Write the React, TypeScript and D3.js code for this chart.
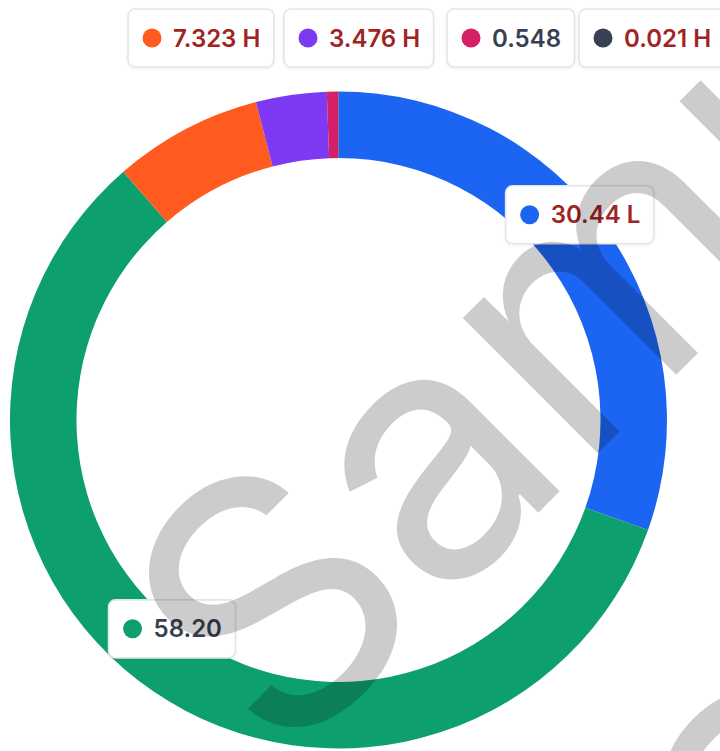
import React, { useMemo } from 'react';
import * as d3 from 'd3';

// ---- data ----
const categories = ['Seg 1', 'Seg 2', 'Seg 3', 'Seg 4', 'Seg 5', 'Seg 6'];
const values = [30.44, 58.2, 7.323, 3.476, 0.548, 0.021];
const valueTexts = ['30.44', '58.20', '7.323', '3.476', '0.548', '0.021'];
const flags = ['L', '', 'H', 'H', '', 'H'];
const colors = ['#1C64F2', '#0E9F6E', '#FF5A1F', '#7E3AF2', '#D61F69', '#374151'];
// labels of the small slices are stacked in a row at the top (left edges)
const rowLabelIdx = [2, 3, 4, 5];
const rowLabelX = [128, 284, 447, 579];

const W = 720;
const H = 751;
const CX = 338.5;
const CY = 420;
const R_OUT = 328.5;
const R_IN = 262;
const BOX_H = 58;
const FONT = 'Inter, "Noto Sans", sans-serif';

function measure(text: string): number {
  if (typeof document === 'undefined') return text.length * 13;
  const c = document.createElement('canvas');
  const ctx = c.getContext('2d');
  if (!ctx) return text.length * 13;
  ctx.font = `600 24px ${FONT}`;
  return ctx.measureText(text).width;
}

function Label({ x, y, i }: { x: number; y: number; i: number }) {
  const txt = valueTexts[i] + (flags[i] ? ' ' + flags[i] : '');
  const tw = measure(txt);
  const w = 14.5 + 19 + 11.5 + tw + 13.5;
  const color = flags[i] ? '#9F2424' : '#374151';
  return (
    <g transform={`translate(${x},${y})`}>
      <rect
        x={0}
        y={0}
        width={w}
        height={BOX_H}
        rx={7}
        fill="#fff"
        stroke="#e2e5ea"
        strokeWidth={1.6}
        filter="url(#shadow)"
      />
      <circle cx={14.5 + 9.5} cy={BOX_H / 2} r={9.5} fill={colors[i]} />
      <text
        x={14.5 + 19 + 11.5}
        y={BOX_H / 2 + 8.6}
        fontFamily={FONT}
        fontWeight={600}
        fontSize={24}
        fill={color}
      >
        {txt}
      </text>
    </g>
  );
}

export default function App() {
  const arcs = useMemo(() => {
    const pie = d3
      .pie<number>()
      .sort(null)
      .value((d) => d)
      .startAngle(0)
      .endAngle(2 * Math.PI);
    return pie(values);
  }, []);

  const arcGen = d3.arc<d3.PieArcDatum<number>>().innerRadius(R_IN).outerRadius(R_OUT);
  const labelArc = d3
    .arc<d3.PieArcDatum<number>>()
    .innerRadius((R_IN + R_OUT) / 2)
    .outerRadius((R_IN + R_OUT) / 2);

  const bigLabels = [0, 1].map((i) => {
    const [lx, ly] = labelArc.centroid(arcs[i]);
    const txt = valueTexts[i] + (flags[i] ? ' ' + flags[i] : '');
    const w = 14.5 + 19 + 11.5 + measure(txt) + 13.5;
    return { i, x: CX + lx - w / 2, y: CY + ly - 6 - BOX_H };
  });

  return (
    <svg
      width={W}
      height={H}
      viewBox={`0 0 ${W} ${H}`}
      style={{ position: 'absolute', left: 0, top: 0, background: '#fff' }}
    >
      <defs>
        <filter id="shadow" x="-10%" y="-20%" width="120%" height="150%">
          <feDropShadow dx="0" dy="1" stdDeviation="1.2" floodColor="#000" floodOpacity="0.08" />
        </filter>
      </defs>
      <rect width={W} height={H} fill="#fff" />
      <g transform={`translate(${CX},${CY})`}>
        {arcs.map((a, i) => (
          <path key={categories[i]} d={arcGen(a) || ''} fill={colors[i]} />
        ))}
      </g>
      {bigLabels.map((l) => (
        <Label key={l.i} x={l.x} y={l.y} i={l.i} />
      ))}
      {rowLabelIdx.map((idx, k) => (
        <Label key={idx} x={rowLabelX[k]} y={9} i={idx} />
      ))}
      {/* watermark */}
      <g fill="rgba(0,0,0,0.2)" fontFamily={FONT} fontSize={350} fontWeight={400}>
        <text transform="translate(281,770) rotate(-45)">Sample</text>
        <text transform="translate(795,982) rotate(-45)">Sample</text>
      </g>
    </svg>
  );
}
